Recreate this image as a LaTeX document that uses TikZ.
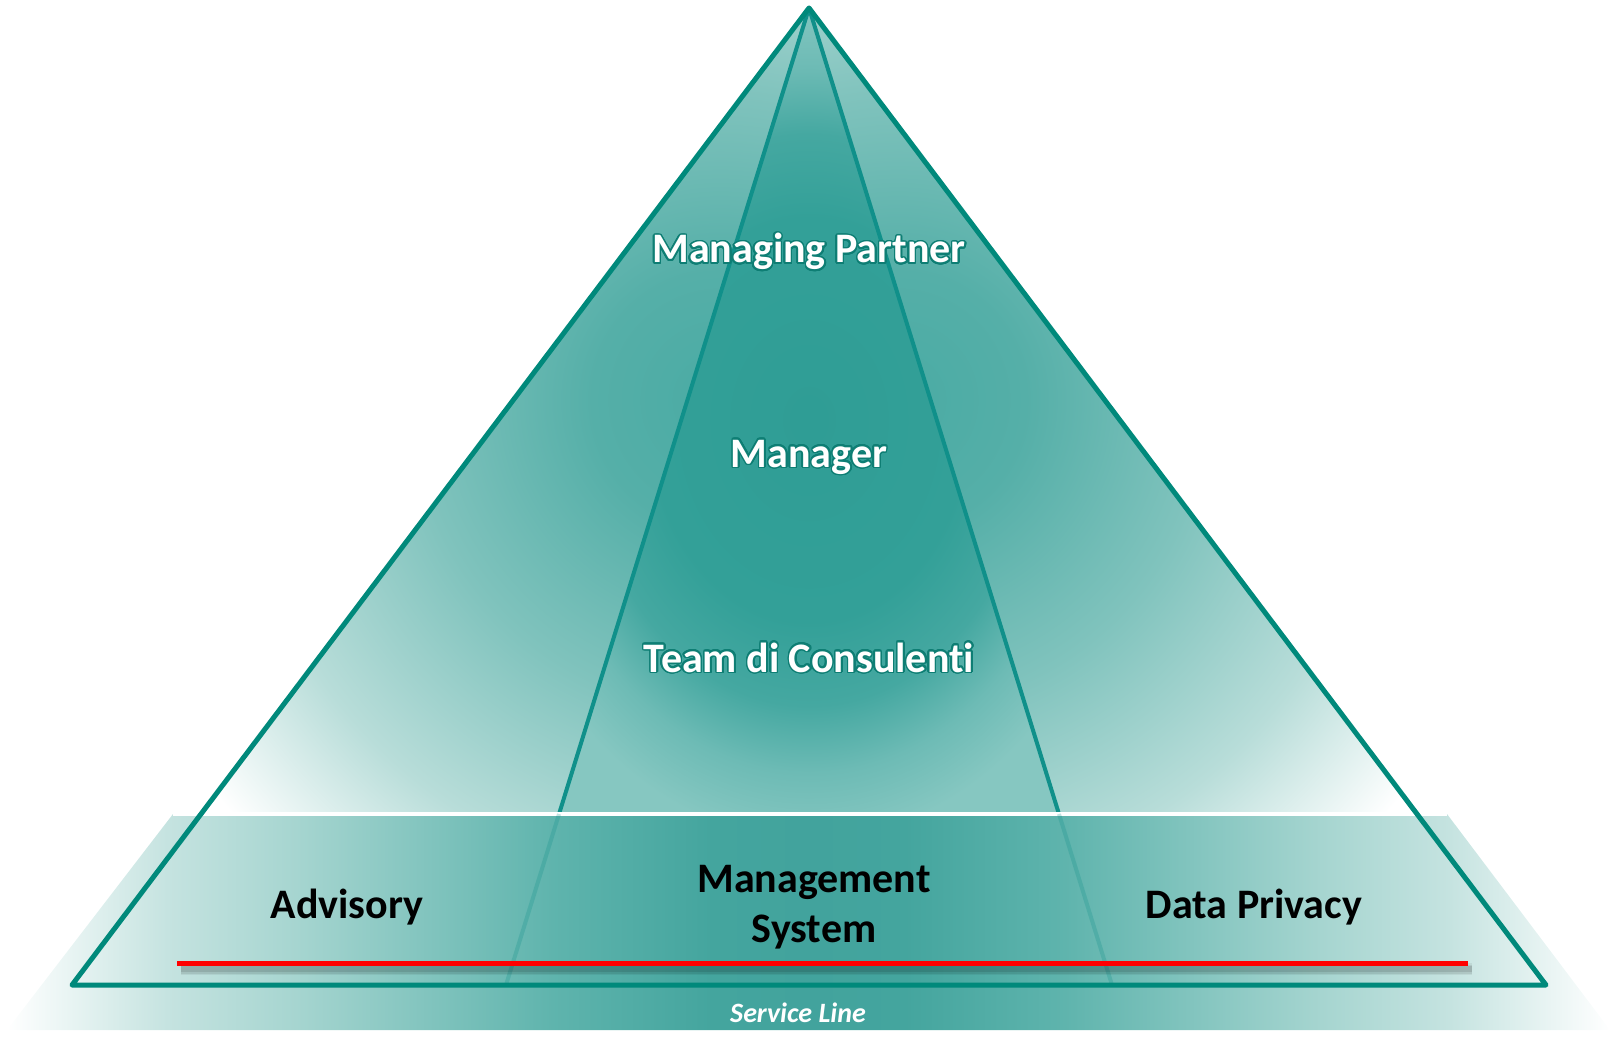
\documentclass[tikz,border=0pt]{standalone}
\usepackage{fontspec}
\setmainfont{Carlito}[Ligatures=NoCommon]
\usepackage{contour}
\usetikzlibrary{calc}

\definecolor{pyrline}{HTML}{00897B}
\definecolor{pyrinner}{HTML}{10908A}
\definecolor{glowteal}{HTML}{0E7E74}
\definecolor{sideA}{HTML}{4AABA4}
\definecolor{sideB}{HTML}{55AFA8}
\definecolor{sideC}{HTML}{80C3BD}
\definecolor{sideD}{HTML}{B8DDD9}
\definecolor{midA}{HTML}{2F9D95}
\definecolor{midB}{HTML}{33A098}
\definecolor{midC}{HTML}{45A8A1}
\definecolor{midD}{HTML}{6DBBB5}
\definecolor{midE}{HTML}{86C7C1}
\definecolor{bandA}{HTML}{C5E3E0}
\definecolor{bandB}{HTML}{A6D5D0}
\definecolor{bandC}{HTML}{5FB4AD}
\definecolor{bandD}{HTML}{44A59E}
\definecolor{bandE}{HTML}{42A39D}

\pgfdeclareradialshading{sidefade}{\pgfpoint{0bp}{0bp}}{color(0bp)=(sideA); color(5bp)=(sideB); color(12bp)=(sideC); color(19bp)=(sideD); color(25bp)=(white); color(50bp)=(white)}
\pgfdeclareradialshading{midglow}{\pgfpoint{0bp}{0bp}}{color(0bp)=(midA); color(12bp)=(midB); color(17bp)=(midC); color(21bp)=(midD); color(25bp)=(midE); color(50bp)=(midE)}
\pgfdeclarehorizontalshading{bandfade}{100bp}{color(0bp)=(white); color(25bp)=(white); color(30bp)=(bandA); color(34bp)=(bandB); color(42bp)=(bandC); color(47bp)=(bandD); color(50bp)=(bandE); color(53bp)=(bandD); color(58bp)=(bandC); color(66bp)=(bandB); color(70bp)=(bandA); color(75bp)=(white); color(100bp)=(white)}

\contourlength{1.5pt}
\contournumber{24}

\begin{document}
\begin{tikzpicture}[x=1pt,y=-1pt,
  toplabel/.style={text=white,font=\fontsize{42}{50}\selectfont\bfseries,anchor=base},
  baselabel/.style={text=black,font=\fontsize{42}{50}\selectfont\bfseries,align=center},
  edgeline/.style={draw=pyrline,line width=5pt,line join=round,line cap=round},
  innerline/.style={draw=pyrinner,line width=4pt}]
\useasboundingbox (0,0) rectangle (1614,1040);

\coordinate (P) at (809,8);
\coordinate (L) at (72,985);
\coordinate (R) at (1546,985);
\coordinate (IL) at (506,985);
\coordinate (IR) at (1112,985);
\coordinate (ILtop) at ($(P)!0.825!(IL)$);
\coordinate (IRtop) at ($(P)!0.825!(IR)$);

\coordinate (TL) at (173,814);
\coordinate (TR) at (1447,814);
\coordinate (BR) at (1610,1030);
\coordinate (BL) at (7,1030);

\coordinate (RA) at (177,963);
\coordinate (RB) at (1468,963);

% faces
\begin{scope}
\clip (0,0) rectangle (1614,814);
\begin{scope}
\clip (P)--(L)--(IL)--cycle;
\shade[shading=sidefade] (80,-240) rectangle (1360,1040);
\end{scope}
\begin{scope}
\clip (P)--(R)--(IR)--cycle;
\shade[shading=sidefade] (258,-240) rectangle (1538,1040);
\end{scope}
\begin{scope}
\clip (P)--(IL)--(IR)--cycle;
\shade[shading=midglow] (479,0) rectangle (1139,840);
\end{scope}
\end{scope}
\draw[innerline] (P)--(ILtop);
\draw[innerline] (P)--(IRtop);

% service line band
\shade[shading=bandfade] (TL)--(TR)--(BR)--(BL)--cycle;
\draw[white,line width=4pt] (TL)--(TR);
\draw[innerline,opacity=0.25] (ILtop)--(IL);
\draw[innerline,opacity=0.25] (IRtop)--(IR);

\draw[edgeline] (P)--(L)--(R)--cycle;

% red bar
\foreach \w/\o in {12/0.06,9/0.08,6/0.1}
  \draw[black,opacity=\o,line width=\w pt] ($(RA)+(4,6)$)--($(RB)+(4,6)$);
\draw[red,line width=5pt] (RA)--(RB);

\node[toplabel] (mp) at (809,263) {\contour{glowteal}{Managing Partner}};
\node[toplabel] (mgr) at (809,467) {\contour{glowteal}{Manager}};
\node[toplabel] (team) at (809,672) {\contour{glowteal}{Team di Consulenti}};

\node[baselabel,anchor=base] (adv) at (347,918) {Advisory};
\node[baselabel] (ms) at (814,907) {Management\\System};
\node[baselabel,anchor=base] (dp) at (1254,918) {Data Privacy};
\node[text=white,font=\fontsize{28}{32}\selectfont\bfseries\itshape,anchor=base] (sl) at (798,1022) {Service Line};
\end{tikzpicture}
\end{document}
